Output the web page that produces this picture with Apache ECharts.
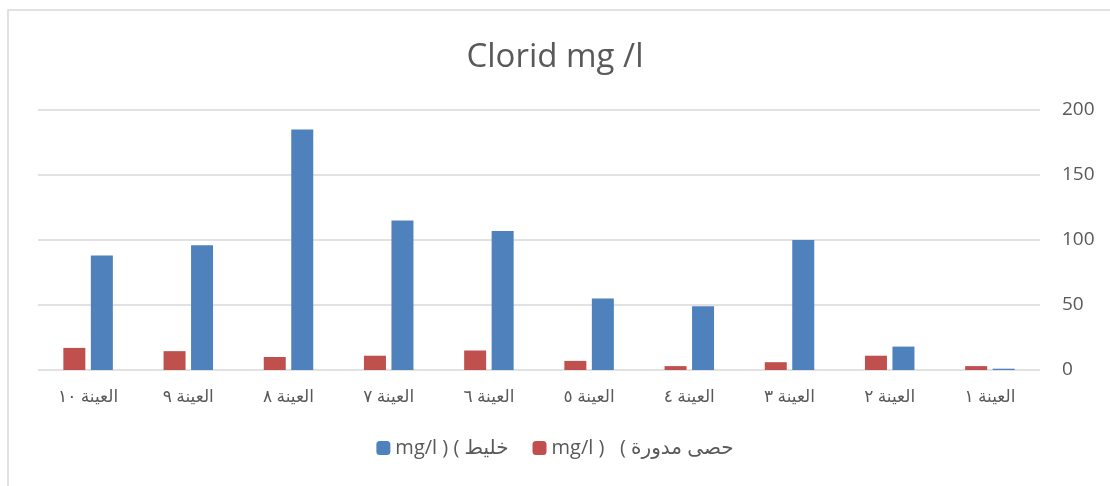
<!DOCTYPE html>
<html>
<head>
<meta charset="utf-8">
<script src="https://cdn.jsdelivr.net/npm/echarts@6/dist/echarts.min.js"></script>
<style>
  html, body { margin: 0; padding: 0; background: #fff; }
  #chart { width: 1110px; height: 486px; }
</style>
</head>
<body>
<div id="chart"></div>
<script>
var categories = ['العينة ١', 'العينة ٢', 'العينة ٣', 'العينة ٤', 'العينة ٥',
                  'العينة ٦', 'العينة ٧', 'العينة ٨', 'العينة ٩', 'العينة ١٠'];
var roundGravel = [3, 11, 6, 3, 7, 15, 11, 10, 14.5, 17];   // حصى مدورة
var mixture = [1, 18, 100, 49, 55, 107, 115, 185, 96, 88];   // خليط
var yTicks = { min: 0, max: 200, interval: 50 };

// LRM marks keep the brackets in the order they show in the picture
var redName = 'mg/l )\u200E   (\u200E حصى مدورة';
var blueName = 'mg/l )\u200E (\u200E خليط';

var chart = echarts.init(document.getElementById('chart'));
chart.setOption({
  animation: false,
  textStyle: { fontFamily: 'Open Sans, DejaVu Sans, sans-serif' },
  title: {
    text: 'Clorid mg /l',
    left: 'center',
    top: 36,
    textStyle: { fontSize: 33, fontWeight: 'normal', color: '#595959' }
  },
  graphic: [{
    type: 'rect',
    shape: { x: 8, y: 10, width: 1200, height: 600 },
    style: { fill: 'none', stroke: '#d9d9d9', lineWidth: 1.5 },
    silent: true
  }],
  legend: {
    data: [blueName, redName],
    bottom: 23,
    left: 'center',
    itemWidth: 14,
    itemHeight: 14,
    itemGap: 24,
    textStyle: { fontSize: 20, color: '#595959' }
  },
  grid: { left: 38, right: 70, top: 110, bottom: 116 },
  xAxis: {
    type: 'category',
    data: categories,
    inverse: true,
    axisLine: { show: false },
    axisTick: { show: false },
    axisLabel: { fontSize: 17, color: '#595959', margin: 19 }
  },
  yAxis: {
    type: 'value',
    position: 'right',
    min: yTicks.min,
    max: yTicks.max,
    interval: yTicks.interval,
    axisLine: { show: false },
    axisTick: { show: false },
    axisLabel: { fontSize: 19, color: '#595959', margin: 22 },
    splitLine: { lineStyle: { color: '#d9d9d9', width: 1.5 } }
  },
  series: [
    {
      name: redName,
      type: 'bar',
      data: roundGravel,
      barWidth: 22,
      barGap: '25%',
      itemStyle: { color: '#C0504D' }
    },
    {
      name: blueName,
      type: 'bar',
      data: mixture,
      barWidth: 22,
      barGap: '25%',
      itemStyle: { color: '#4F81BD' }
    }
  ]
});
</script>
</body>
</html>
